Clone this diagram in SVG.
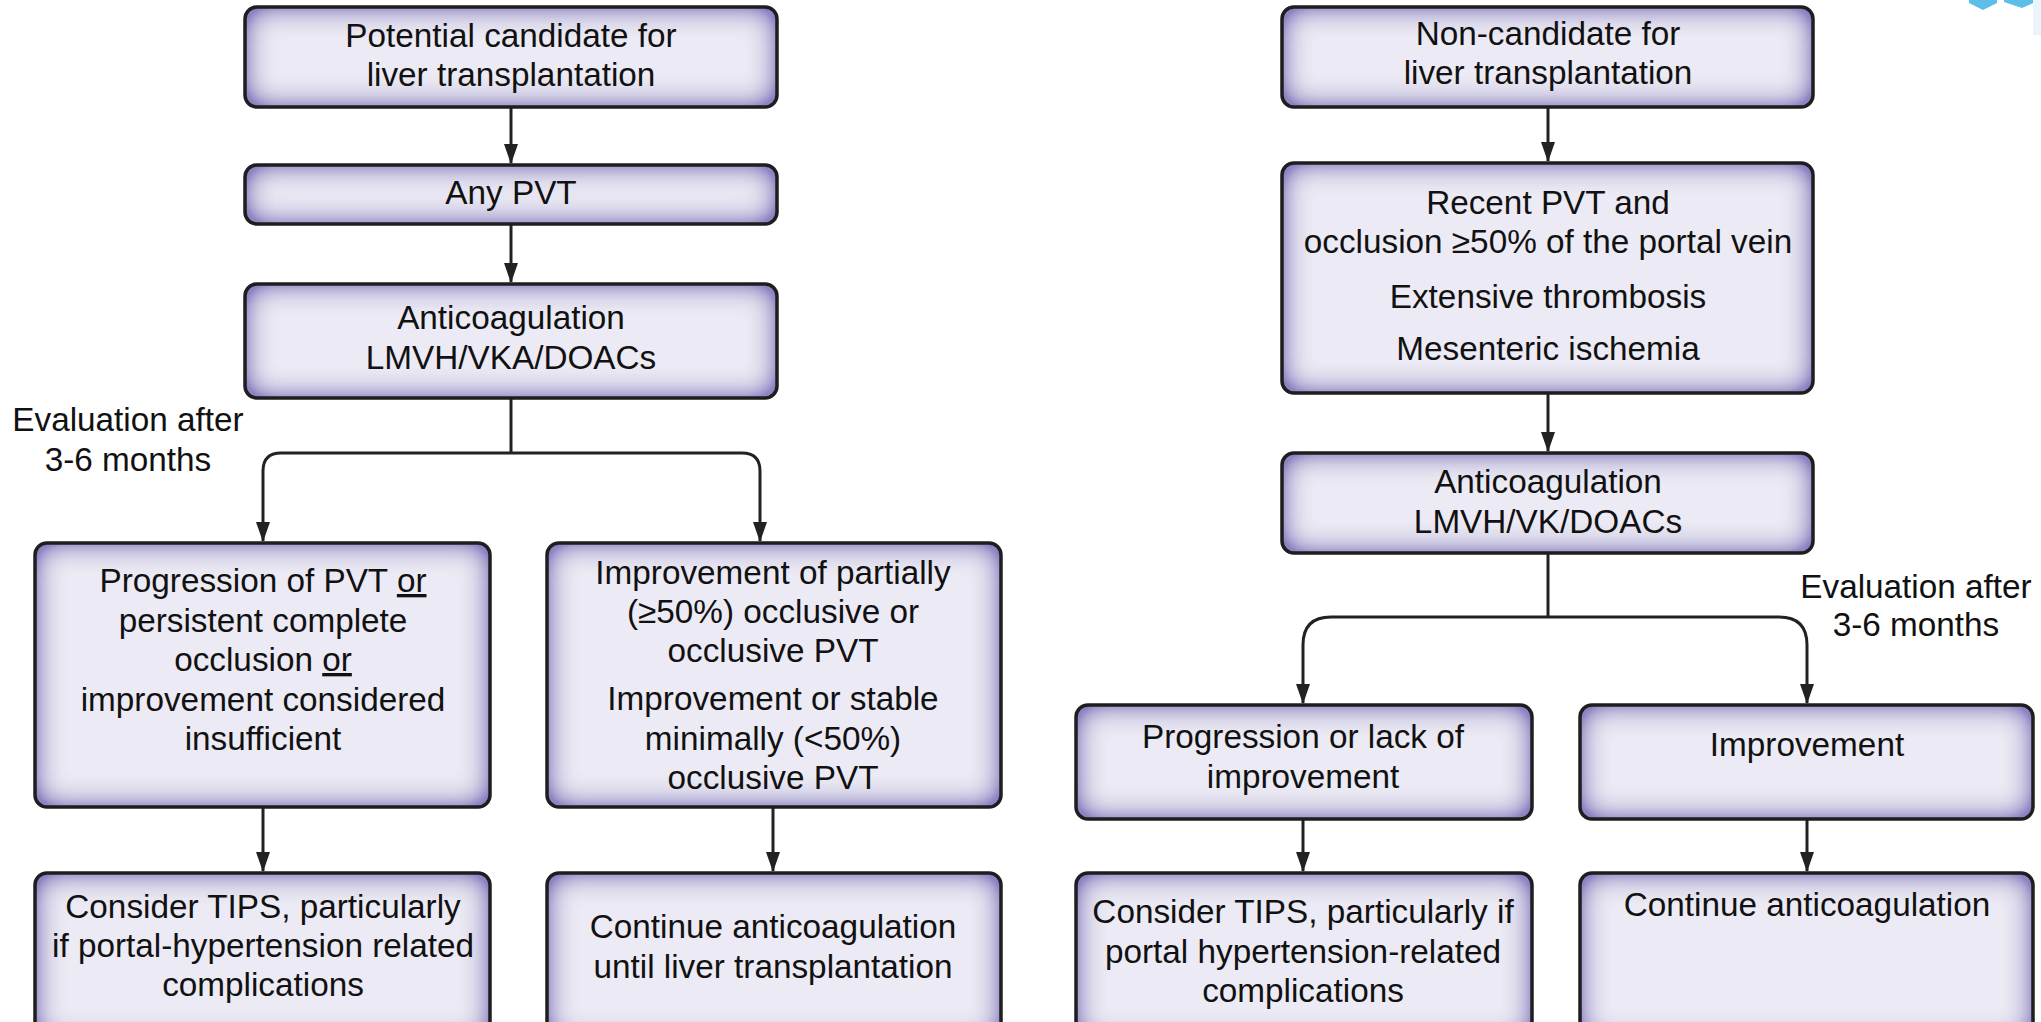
<svg xmlns="http://www.w3.org/2000/svg" width="2041" height="1022" viewBox="0 0 2041 1022">
<style>
.bg{fill:#eceaf4;filter:url(#glow)}
.bd{fill:none;stroke:#1e1e1e;stroke-width:3.5}
text{font-family:"Liberation Sans",Arial,sans-serif;font-size:33.3px;fill:#111;text-anchor:middle}
.c{fill:none;stroke:#222;stroke-width:3}
.u{text-decoration:underline}
</style>
<defs>
<filter id="glow" x="-50%" y="-50%" width="200%" height="200%">
<feFlood flood-color="#8d84c4" result="f"/>
<feComposite in="f" in2="SourceAlpha" operator="out" result="o"/>
<feGaussianBlur in="o" stdDeviation="15" result="b"/>
<feComponentTransfer in="b" result="bb"><feFuncA type="linear" slope="1.8"/></feComponentTransfer>
<feComposite in="bb" in2="SourceAlpha" operator="in" result="g"/>
<feMerge><feMergeNode in="SourceGraphic"/><feMergeNode in="g"/></feMerge>
</filter>
<marker id="arr" markerUnits="userSpaceOnUse" markerWidth="20" markerHeight="14" refX="19" refY="7" orient="auto" viewBox="0 0 20 14">
<path d="M0,0 L20,7 L0,14 Z" fill="#222"/>
</marker>
</defs>
<rect width="2041" height="1022" fill="#fff"/>

<g id="logo">
<polygon points="1969,0 1997,0 1997,3 1983,10 1969,3" fill="#5bbfe9"/>
<polygon points="2004,0 2036,0 2036,2 2022,8 2004,2" fill="#5bbfe9"/>
<rect x="2033" y="0" width="8" height="35" fill="#eaf5fb"/>
</g>

<g id="connectors">
<path class="c" d="M511,107 V163" marker-end="url(#arr)"/>
<path class="c" d="M511,224 V282" marker-end="url(#arr)"/>
<path class="c" d="M511,398 V453"/>
<path class="c" d="M511,453 H281 Q263,453 263,471 V541" marker-end="url(#arr)"/>
<path class="c" d="M511,453 H742 Q760,453 760,471 V541" marker-end="url(#arr)"/>
<path class="c" d="M263,807 V871" marker-end="url(#arr)"/>
<path class="c" d="M773,807 V871" marker-end="url(#arr)"/>
<path class="c" d="M1548,107 V161" marker-end="url(#arr)"/>
<path class="c" d="M1548,393 V451" marker-end="url(#arr)"/>
<path class="c" d="M1548,553 V617"/>
<path class="c" d="M1548,617 H1331 Q1303,617 1303,645 V703" marker-end="url(#arr)"/>
<path class="c" d="M1548,617 H1779 Q1807,617 1807,645 V703" marker-end="url(#arr)"/>
<path class="c" d="M1303,819 V871" marker-end="url(#arr)"/>
<path class="c" d="M1807,819 V871" marker-end="url(#arr)"/>
</g>

<g id="n1">
<rect class="bg" x="245" y="7" width="532" height="100" rx="12"/>
<rect class="bd" x="245" y="7" width="532" height="100" rx="12"/>
<text x="511" y="47">Potential candidate for</text>
<text x="511" y="86">liver transplantation</text>
</g>
<g id="n2">
<rect class="bg" x="245" y="165" width="532" height="59" rx="12"/>
<rect class="bd" x="245" y="165" width="532" height="59" rx="12"/>
<text x="511" y="204">Any PVT</text>
</g>
<g id="n3">
<rect class="bg" x="245" y="284" width="532" height="114" rx="12"/>
<rect class="bd" x="245" y="284" width="532" height="114" rx="12"/>
<text x="511" y="329">Anticoagulation</text>
<text x="511" y="369">LMVH/VKA/DOACs</text>
</g>
<g id="lbl-left">
<text x="128" y="431">Evaluation after</text>
<text x="128" y="471">3-6 months</text>
</g>
<g id="n4">
<rect class="bg" x="35" y="543" width="455" height="264" rx="12"/>
<rect class="bd" x="35" y="543" width="455" height="264" rx="12"/>
<text x="263" y="592">Progression of PVT <tspan class="u">or</tspan></text>
<text x="263" y="632">persistent complete</text>
<text x="263" y="671">occlusion <tspan class="u">or</tspan></text>
<text x="263" y="711">improvement considered</text>
<text x="263" y="750">insufficient</text>
</g>
<g id="n5">
<rect class="bg" x="547" y="543" width="454" height="264" rx="12"/>
<rect class="bd" x="547" y="543" width="454" height="264" rx="12"/>
<text x="773" y="584">Improvement of partially</text>
<text x="773" y="623">(≥50%) occlusive or</text>
<text x="773" y="662">occlusive PVT</text>
<text x="773" y="710">Improvement or stable</text>
<text x="773" y="750">minimally (&lt;50%)</text>
<text x="773" y="789">occlusive PVT</text>
</g>
<g id="n6">
<rect class="bg" x="35" y="873" width="455" height="170" rx="12"/>
<rect class="bd" x="35" y="873" width="455" height="170" rx="12"/>
<text x="263" y="918">Consider TIPS, particularly</text>
<text x="263" y="957">if portal-hypertension related</text>
<text x="263" y="996">complications</text>
</g>
<g id="n7">
<rect class="bg" x="547" y="873" width="454" height="170" rx="12"/>
<rect class="bd" x="547" y="873" width="454" height="170" rx="12"/>
<text x="773" y="938">Continue anticoagulation</text>
<text x="773" y="978">until liver transplantation</text>
</g>

<g id="r1">
<rect class="bg" x="1282" y="7" width="531" height="100" rx="12"/>
<rect class="bd" x="1282" y="7" width="531" height="100" rx="12"/>
<text x="1548" y="45">Non-candidate for</text>
<text x="1548" y="84">liver transplantation</text>
</g>
<g id="r2">
<rect class="bg" x="1282" y="163" width="531" height="230" rx="12"/>
<rect class="bd" x="1282" y="163" width="531" height="230" rx="12"/>
<text x="1548" y="214">Recent PVT and</text>
<text x="1548" y="253">occlusion ≥50% of the portal vein</text>
<text x="1548" y="308">Extensive thrombosis</text>
<text x="1548" y="360">Mesenteric ischemia</text>
</g>
<g id="r3">
<rect class="bg" x="1282" y="453" width="531" height="100" rx="12"/>
<rect class="bd" x="1282" y="453" width="531" height="100" rx="12"/>
<text x="1548" y="493">Anticoagulation</text>
<text x="1548" y="533">LMVH/VK/DOACs</text>
</g>
<g id="lbl-right">
<text x="1916" y="598">Evaluation after</text>
<text x="1916" y="636">3-6 months</text>
</g>
<g id="r4">
<rect class="bg" x="1076" y="705" width="456" height="114" rx="12"/>
<rect class="bd" x="1076" y="705" width="456" height="114" rx="12"/>
<text x="1303" y="748">Progression or lack of</text>
<text x="1303" y="788">improvement</text>
</g>
<g id="r5">
<rect class="bg" x="1580" y="705" width="453" height="114" rx="12"/>
<rect class="bd" x="1580" y="705" width="453" height="114" rx="12"/>
<text x="1807" y="756">Improvement</text>
</g>
<g id="r6">
<rect class="bg" x="1076" y="873" width="456" height="170" rx="12"/>
<rect class="bd" x="1076" y="873" width="456" height="170" rx="12"/>
<text x="1303" y="923">Consider TIPS, particularly if</text>
<text x="1303" y="963">portal hypertension-related</text>
<text x="1303" y="1002">complications</text>
</g>
<g id="r7">
<rect class="bg" x="1580" y="873" width="453" height="170" rx="12"/>
<rect class="bd" x="1580" y="873" width="453" height="170" rx="12"/>
<text x="1807" y="916">Continue anticoagulation</text>
</g>
</svg>
